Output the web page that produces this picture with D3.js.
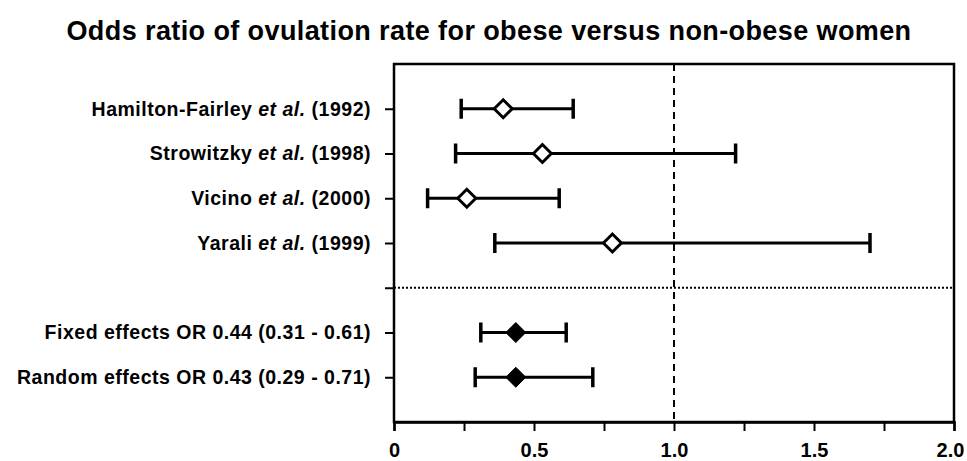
<!DOCTYPE html>
<html>
<head>
<meta charset="utf-8">
<script src="https://cdn.jsdelivr.net/npm/d3@7"></script>
<style>
  body { margin: 0; background: #fff; }
  text { font-family: "Liberation Sans", Arial, sans-serif; font-weight: bold; fill: #000; }
</style>
</head>
<body>
<script>
const w = 967;
const h = 461;

// individual studies
const studies = ["Hamilton-Fairley", "Strowitzky", "Vicino", "Yarali"];
const studyYears = ["1992", "1998", "2000", "1999"];
const studyOR = [0.39, 0.53, 0.26, 0.78];
const studyLow = [0.24, 0.22, 0.12, 0.36];
const studyHigh = [0.64, 1.22, 0.59, 1.70];

// pooled estimates
const pooledNames = ["Fixed effects OR 0.44 (0.31 - 0.61)", "Random effects OR 0.43 (0.29 - 0.71)"];
const pooledOR = [0.435, 0.435];
const pooledLow = [0.31, 0.29];
const pooledHigh = [0.615, 0.71];

const xTicks = [0, 0.25, 0.5, 0.75, 1, 1.25, 1.5, 1.75, 2];
const xLabels = ["0", "", "0.5", "", "1.0", "", "1.5", "", "2.0"];

const rows = studies.map((s, i) => ({pos: i + 1, or: studyOR[i], lo: studyLow[i], hi: studyHigh[i], open: true}))
  .concat(pooledNames.map((s, i) => ({pos: i + 6, or: pooledOR[i], lo: pooledLow[i], hi: pooledHigh[i], open: false})));

const x = d3.scaleLinear().domain([0, 2]).range([394, 954]);
const y = d3.scaleLinear().domain([0, 8]).range([64, 422]);

const svg = d3.select("body")
           .append("svg")
           .attr("width", w)
           .attr("height", h);

svg.append("text")
   .attr("x", 489)
   .attr("y", 40)
   .attr("text-anchor", "middle")
   .style("font-size", "27px")
   .style("letter-spacing", "0.4px")
   .text("Odds ratio of ovulation rate for obese versus non-obese women");

// frame
svg.append("rect")
   .attr("x", x(0)).attr("y", y(0))
   .attr("width", x(2) - x(0)).attr("height", y(8) - y(0))
   .attr("fill", "none").attr("stroke", "#000").attr("stroke-width", 2.5);

// bottom axis
const xAxis = svg.append("g")
   .attr("transform", `translate(0,${y(8)})`)
   .call(d3.axisBottom(x).tickValues(xTicks).tickSize(9).tickPadding(12)
         .tickFormat((d, i) => xLabels[i]));
xAxis.select(".domain").attr("stroke-width", 2.5);
xAxis.selectAll(".tick line").attr("stroke-width", 2);
xAxis.selectAll(".tick text").style("font-size", "20px").attr("font-family", null)
     .attr("dx", d => d === 2 ? -4 : 0);

// left axis with labels
const yAxis = svg.append("g")
   .attr("transform", `translate(${x(0)},0)`)
   .call(d3.axisLeft(y).tickValues([1, 2, 3, 4, 5, 6, 7]).tickSize(9).tickPadding(14).tickFormat(""));
yAxis.select(".domain").remove();
yAxis.selectAll(".tick line").attr("stroke-width", 2);

yAxis.selectAll(".tick").each(function(d) {
  const t = d3.select(this).select("text")
    .style("font-size", "19.5px").style("letter-spacing", "0.5px").attr("font-family", null);
  if (d <= 4) {
    const i = d - 1;
    t.append("tspan").text(studies[i] + " ");
    t.append("tspan").style("font-style", "italic").text("et al.");
    t.append("tspan").text(" (" + studyYears[i] + ")");
  } else if (d >= 6) {
    t.text(pooledNames[d - 6]);
  }
});

// reference lines
svg.append("line")
   .attr("x1", x(1)).attr("x2", x(1)).attr("y1", y(0)).attr("y2", y(8))
   .attr("stroke", "#000").attr("stroke-width", 2).attr("stroke-dasharray", "7,5");

svg.append("line")
   .attr("x1", x(0)).attr("x2", x(2)).attr("y1", y(5)).attr("y2", y(5))
   .attr("stroke", "#000").attr("stroke-width", 2).attr("stroke-dasharray", "2,2");

// error bars
const g = svg.append("g").selectAll("g").data(rows).enter().append("g");

g.append("line")
 .attr("x1", d => x(d.lo)).attr("x2", d => x(d.hi))
 .attr("y1", d => y(d.pos)).attr("y2", d => y(d.pos))
 .attr("stroke", "#000").attr("stroke-width", 3);

g.selectAll(".cap").data(d => [[d.lo, d.pos], [d.hi, d.pos]]).enter().append("line")
 .attr("x1", d => x(d[0])).attr("x2", d => x(d[0]))
 .attr("y1", d => y(d[1]) - 10).attr("y2", d => y(d[1]) + 10)
 .attr("stroke", "#000").attr("stroke-width", 3.5);

g.append("path")
 .attr("d", d => {
   const cx = x(d.or), cy = y(d.pos), r = d.open ? 9 : 10;
   return `M${cx - r},${cy}L${cx},${cy - r}L${cx + r},${cy}L${cx},${cy + r}Z`;
 })
 .attr("fill", d => d.open ? "#fff" : "#000")
 .attr("stroke", "#000")
 .attr("stroke-width", d => d.open ? 3 : 1);
</script>
</body>
</html>
